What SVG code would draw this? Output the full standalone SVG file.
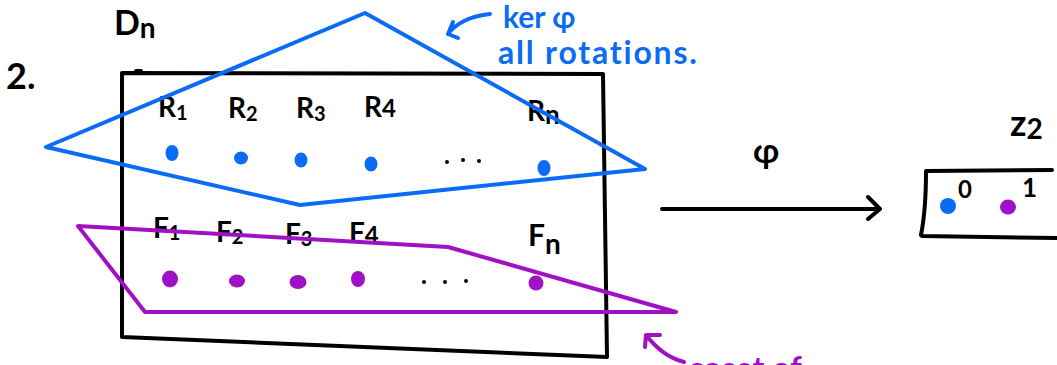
<svg xmlns="http://www.w3.org/2000/svg" width="1057" height="365" viewBox="0 0 1057 365">
<style>
.ink{fill:none;stroke:#000;stroke-width:4;stroke-linecap:round;stroke-linejoin:round}
.blue{fill:none;stroke:#0a6cf5;stroke-width:4;stroke-linecap:round;stroke-linejoin:round}
.purp{fill:none;stroke:#a010c4;stroke-width:4;stroke-linecap:round;stroke-linejoin:round}
.t{font-family:"Lato","Liberation Sans",sans-serif;fill:#000;font-weight:bold}
.tb{font-family:"Lato","Liberation Sans",sans-serif;fill:#0a6cf5;font-weight:bold}
.tp{font-family:"Lato","Liberation Sans",sans-serif;fill:#a010c4;font-weight:bold}
.bd{fill:#0a6cf5}
.pd{fill:#a010c4}
.dot{fill:#000}
</style>
<rect width="1057" height="365" fill="#fff"/>
<g id="title">
<text class="t" x="6" y="89" font-size="36">2.</text>
</g>
<g id="Dn">
<path class="ink" d="M122 337 L122 73 L603 74 L607 357 Z"/>
<path class="ink" d="M136 71 L141 71"/>
<text class="t" x="114" y="35" font-size="34">D<tspan font-size="28" dy="3">n</tspan></text>
<g id="rotations">
<text class="t" x="158" y="117" font-size="28">R<tspan font-size="20" dy="3">1</tspan></text>
<text class="t" x="228" y="118" font-size="28">R<tspan font-size="20" dy="3">2</tspan></text>
<text class="t" x="296" y="118" font-size="28">R<tspan font-size="20" dy="3">3</tspan></text>
<text class="t" x="364" y="117" font-size="28">R<tspan font-size="24">4</tspan></text>
<text class="t" x="527" y="121" font-size="28">R<tspan font-size="26" dy="3">n</tspan></text>
<ellipse class="bd" cx="172" cy="153" rx="6.5" ry="8"/>
<ellipse class="bd" cx="241" cy="158" rx="7" ry="6.5"/>
<ellipse class="bd" cx="301" cy="160" rx="6.5" ry="7.5"/>
<ellipse class="bd" cx="371" cy="164" rx="6.5" ry="7.5"/>
<ellipse class="bd" cx="544" cy="168" rx="6.5" ry="8"/>
<circle class="dot" cx="447" cy="162" r="2"/>
<circle class="dot" cx="463" cy="160" r="2"/>
<circle class="dot" cx="479" cy="161" r="2"/>
</g>
<g id="reflections">
<text class="t" x="153" y="238" font-size="28">F<tspan font-size="20" dy="2">1</tspan></text>
<text class="t" x="216" y="242" font-size="28">F<tspan font-size="20" dy="2">2</tspan></text>
<text class="t" x="285" y="244" font-size="28">F<tspan font-size="20" dy="2">3</tspan></text>
<text class="t" x="349" y="243" font-size="28">F<tspan font-size="24" dy="1">4</tspan></text>
<text class="t" x="528" y="246" font-size="30">F<tspan font-size="28" dy="8">n</tspan></text>
<ellipse class="pd" cx="170" cy="279" rx="8" ry="8.5"/>
<ellipse class="pd" cx="237" cy="281" rx="8" ry="6.5"/>
<ellipse class="pd" cx="298" cy="282" rx="8.5" ry="7"/>
<ellipse class="pd" cx="358" cy="279" rx="7" ry="8"/>
<ellipse class="pd" cx="536" cy="283" rx="7.5" ry="7.5"/>
<circle class="dot" cx="424" cy="282" r="2"/>
<circle class="dot" cx="445" cy="282" r="2"/>
<circle class="dot" cx="466" cy="281" r="2"/>
</g>
</g>
<g id="kernel">
<path class="blue" d="M46 147 L365 13 L645 169 L300 205 Z"/>
<path class="blue" d="M490 14 C470 16 455 24 448 34 M448 34 L453 22 M448 34 L458 38"/>
<text class="tb" x="503" y="28" font-size="30">ker φ</text>
<text class="tb" x="498" y="64" font-size="32" letter-spacing="1.8">all rotations.</text>
</g>
<g id="coset">
<path class="purp" d="M78 226 L448 247 L676 312 L145 312 Z"/>
<path class="purp" d="M684 362 C668 358 656 348 646 335 M646 335 L645 347 M646 335 L660 335"/>
<text class="tp" x="688" y="380" font-size="32">coset of</text>
</g>
<g id="Z2">
<path class="ink" d="M926 171 L1052 170 M926 171 C926 195 925 215 921 235 M922 236 L1057 238"/>
<text class="t" x="1010" y="136" font-size="36">z<tspan font-size="28" dy="3">2</tspan></text>
<ellipse class="bd" cx="948" cy="206" rx="8" ry="8"/>
<text class="t" x="958" y="198" font-size="24">0</text>
<ellipse class="pd" cx="1008" cy="207" rx="8" ry="7.5"/>
<text class="t" x="1022" y="197" font-size="26">1</text>
</g>
<g id="connectors">
<path class="ink" d="M662 209 L878 209 M868 197 L880 209 L868 219"/>
<text class="t" x="753" y="163" font-size="34">φ</text>
</g>
</svg>
